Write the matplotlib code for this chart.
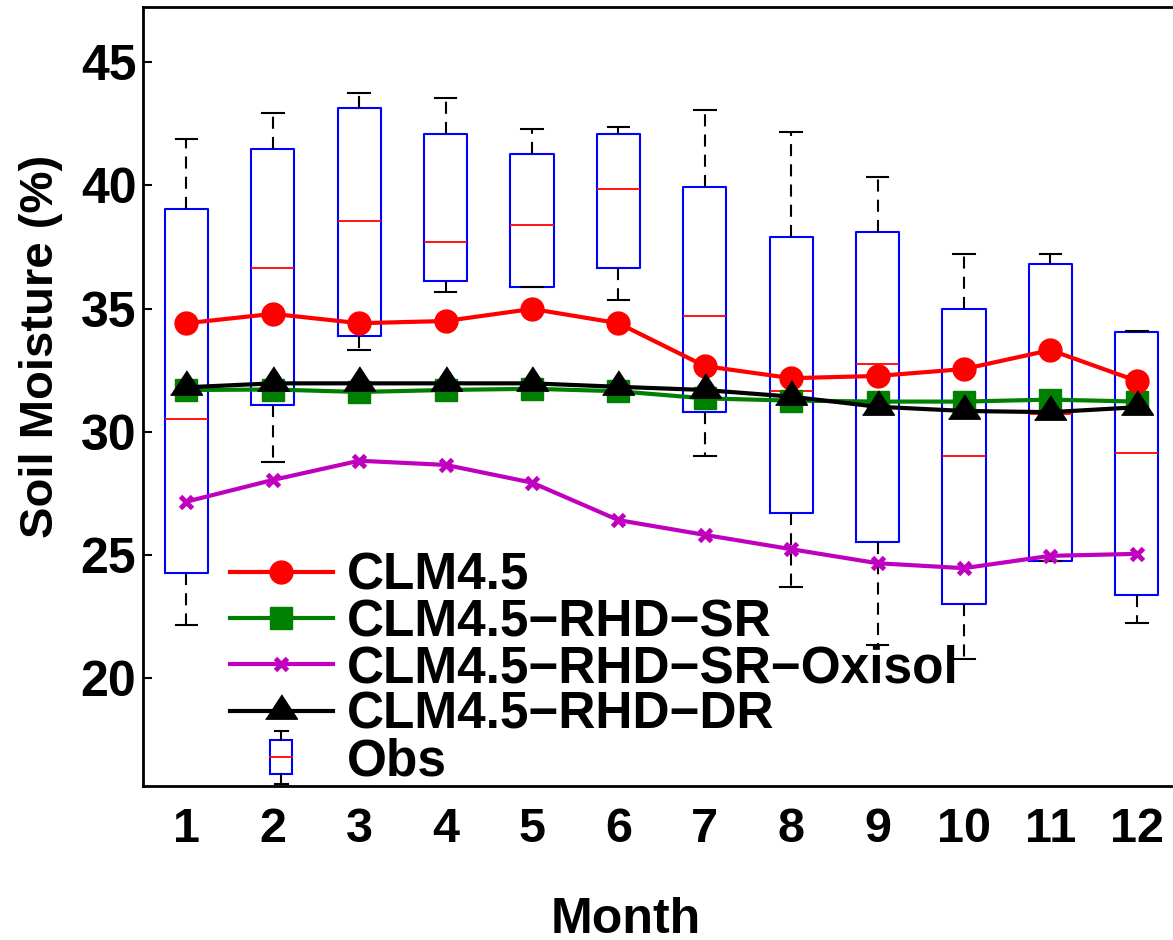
import matplotlib
matplotlib.use("Agg")
import matplotlib.pyplot as plt
from matplotlib.legend_handler import HandlerBase
from matplotlib.patches import Rectangle
from matplotlib.lines import Line2D

# ---------------- data ----------------
months = [1, 2, 3, 4, 5, 6, 7, 8, 9, 10, 11, 12]
month_labels = [str(m) for m in months]

clm45 = [34.41, 34.79, 34.41, 34.50, 34.99, 34.41, 32.67, 32.18, 32.27, 32.55, 33.32, 32.07]
clm45_rhd_sr = [31.70, 31.72, 31.62, 31.70, 31.75, 31.65, 31.36, 31.27, 31.23, 31.23, 31.31, 31.23]
clm45_rhd_sr_oxisol = [27.17, 28.05, 28.83, 28.66, 27.94, 26.42, 25.82, 25.24, 24.67, 24.47, 24.97, 25.05]
clm45_rhd_dr = [31.81, 31.97, 31.97, 31.97, 31.97, 31.83, 31.70, 31.43, 31.02, 30.85, 30.80, 31.00]

obs_q3 = [39.06, 41.49, 43.15, 42.08, 41.29, 42.08, 39.94, 37.90, 38.10, 34.99, 36.83, 34.04]
obs_med = [30.51, 36.64, 38.57, 37.71, 38.38, 39.85, 34.69, 31.67, 32.74, 29.03, 30.71, 29.13]
obs_q1 = [24.26, 31.08, 33.90, 36.14, 35.87, 36.64, 30.80, 26.71, 25.54, 23.00, 24.77, 23.38]
obs_whishi = [41.89, 42.95, 43.74, 43.54, 42.28, 42.37, 43.06, 42.18, 40.33, 37.22, 37.22, 34.11]
obs_whislo = [22.15, 28.77, 33.32, 35.67, 35.87, 35.35, 29.03, 23.69, 21.36, 20.77, 24.77, 22.23]

yticks = [20, 25, 30, 35, 40, 45]

# ---------------- figure ----------------
plt.rcParams['font.family'] = ['Liberation Sans', 'DejaVu Sans']
plt.rcParams['font.weight'] = 'bold'

fig = plt.figure(figsize=(11.73, 9.40), dpi=100)
ax = fig.add_axes([143.3 / 1173, 154 / 940, (1180 - 143.3) / 1173, (786 - 7.3) / 940])

stats = []
for i in range(len(months)):
    stats.append(dict(med=obs_med[i], q1=obs_q1[i], q3=obs_q3[i],
                      whislo=obs_whislo[i], whishi=obs_whishi[i], fliers=[]))

ax.bxp(stats, positions=months, widths=0.5, showfliers=False, capwidths=0.25,
       boxprops=dict(color='#0000FF', linewidth=1.5),
       medianprops=dict(color='#FF0000', linewidth=1.3),
       whiskerprops=dict(color='black', linewidth=1.5, linestyle=(0, (5.8, 3.9))),
       capprops=dict(color='black', linewidth=1.5),
       manage_ticks=False, zorder=2)

tri = [(-16, -7.7), (16, -7.7), (0, 16.7)]

l1, = ax.plot(months, clm45, color='#FF0000', lw=3, marker='o', ms=16.5,
              mec='#FF0000', mfc='#FF0000', zorder=4, label='CLM4.5')
l2, = ax.plot(months, clm45_rhd_sr, color='#008000', lw=3, marker='s', ms=16,
              mec='#008000', mfc='#008000', zorder=3, label='CLM4.5\u2212RHD\u2212SR')
l3, = ax.plot(months, clm45_rhd_sr_oxisol, color='#BF00BF', lw=3, marker='x', ms=8,
              mew=3.5, mec='#BF00BF', zorder=3, label='CLM4.5\u2212RHD\u2212SR\u2212Oxisol')
l4, = ax.plot(months, clm45_rhd_dr, color='black', lw=3, marker=tri, ms=24,
              mec='black', mfc='black', zorder=4, label='CLM4.5\u2212RHD\u2212DR')


class BoxHandle:
    pass


class HandlerBox(HandlerBase):
    def create_artists(self, legend, orig_handle, xdescent, ydescent, width, height,
                       fontsize, trans):
        cx = width / 2 - xdescent
        cy = height / 2 - ydescent
        bw = 0.43 * fontsize
        bh = 0.66 * fontsize
        wh = 0.18 * fontsize
        cw = 0.24 * fontsize
        rect = Rectangle((cx - bw / 2, cy - bh / 2), bw, bh, fill=False,
                         ec='#0000FF', lw=1.5, transform=trans)
        med = Line2D([cx - bw / 2, cx + bw / 2], [cy, cy], color='#FF0000', lw=1.3,
                     transform=trans)
        w1 = Line2D([cx, cx], [cy + bh / 2, cy + bh / 2 + wh], color='black', lw=1.5,
                    transform=trans)
        w2 = Line2D([cx, cx], [cy - bh / 2, cy - bh / 2 - wh], color='black', lw=1.5,
                    transform=trans)
        c1 = Line2D([cx - cw / 2, cx + cw / 2], [cy + bh / 2 + wh] * 2, color='black',
                    lw=1.5, transform=trans)
        c2 = Line2D([cx - cw / 2, cx + cw / 2], [cy - bh / 2 - wh] * 2, color='black',
                    lw=1.5, transform=trans)
        return [rect, med, w1, w2, c1, c2]


obs_handle = BoxHandle()
leg = ax.legend([l1, l2, l3, l4, obs_handle],
                ['CLM4.5', 'CLM4.5\u2212RHD\u2212SR', 'CLM4.5\u2212RHD\u2212SR\u2212Oxisol',
                 'CLM4.5\u2212RHD\u2212DR', 'Obs'],
                handler_map={BoxHandle: HandlerBox()},
                loc='upper left', bbox_to_anchor=(0.0836, 0.301), frameon=False,
                prop=dict(weight='bold', size=37),
                handlelength=2.0, handletextpad=0.27, labelspacing=-0.05,
                borderpad=0, borderaxespad=0, numpoints=1)
leg.set_zorder(1)

ax.set_xlim(0.5, 12.5)
ax.set_ylim(15.63, 47.23)
ax.set_xticks(months)
ax.set_xticklabels(month_labels)
ax.set_yticks(yticks)
ax.set_yticklabels([str(t) for t in yticks])
ax.tick_params(axis='y', direction='in', length=6.5, width=1.5, labelsize=36, pad=5)
ax.tick_params(axis='x', length=0, labelsize=35, pad=15)
for lab in ax.get_xticklabels() + ax.get_yticklabels():
    lab.set_fontweight('bold')

for s in ax.spines.values():
    s.set_linewidth(2.0)

ax.set_ylabel('Soil Moisture (%)', fontsize=34, fontweight='bold')
ax.yaxis.set_label_coords(-0.0775, 0.565)
ax.set_xlabel('Month', fontsize=36, fontweight='bold')
ax.xaxis.set_label_coords((626 - 143.3) / 1036.7, -(897 - 786) / 778.7, transform=ax.transAxes)
ax.xaxis.label.set_va('top')

fig.savefig('out.png', dpi=100)
